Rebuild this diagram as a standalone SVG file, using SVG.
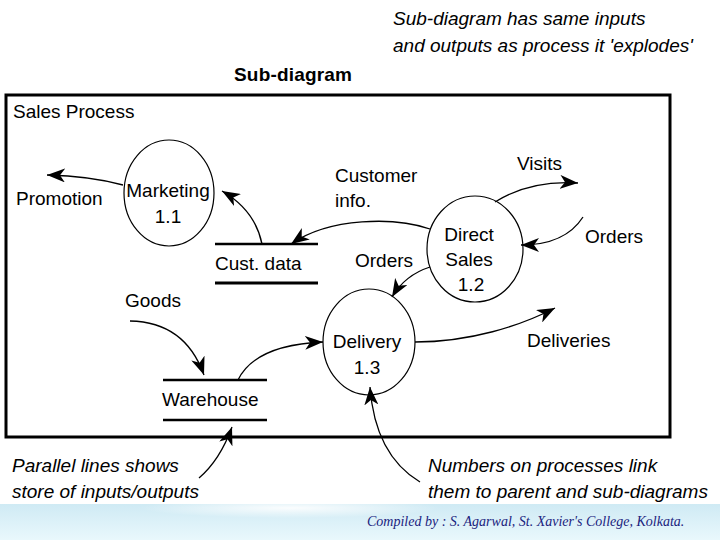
<svg xmlns="http://www.w3.org/2000/svg" width="720" height="540" viewBox="0 0 720 540">
<defs>
<marker id="ah" markerUnits="userSpaceOnUse" markerWidth="20" markerHeight="14" refX="18" refY="7" orient="auto">
<path d="M0,0 L18,7 L0,14 L5,7 Z" fill="#000"/>
</marker>
<linearGradient id="band" x1="0" y1="0" x2="0" y2="1">
<stop offset="0" stop-color="#cfeaf4"/>
<stop offset="1" stop-color="#e9f8fc"/>
</linearGradient>
<radialGradient id="glow" cx="0.5" cy="0.5" r="0.5">
<stop offset="0" stop-color="#ffffff" stop-opacity="0.9"/>
<stop offset="1" stop-color="#ffffff" stop-opacity="0"/>
</radialGradient>
</defs>
<style>
text{font-family:"Liberation Sans",Arial,sans-serif;font-size:19px;fill:#000}
.it{font-style:italic}
.proc{fill:none;stroke:#000;stroke-width:1.2}
.store{stroke:#000;stroke-width:2.5}
.flow{fill:none;stroke:#000;stroke-width:1.3;marker-end:url(#ah)}
.mid{text-anchor:middle}
</style>
<rect width="720" height="540" fill="#fff"/>
<rect x="0" y="504" width="720" height="36" fill="url(#band)"/>
<ellipse cx="290" cy="508" rx="150" ry="10" fill="url(#glow)"/>

<text class="it" x="393" y="25">Sub-diagram has same inputs</text>
<text class="it" x="393" y="52">and outputs as process it 'explodes'</text>
<text x="234" y="81" style="font-weight:bold;font-size:19px" textLength="118">Sub-diagram</text>

<rect x="6" y="95" width="664" height="342" fill="none" stroke="#000" stroke-width="3"/>
<text x="13" y="118">Sales Process</text>

<g id="marketing">
<ellipse class="proc" cx="169" cy="193" rx="45" ry="53"/>
<text class="mid" x="168" y="197">Marketing</text>
<text class="mid" x="168" y="223">1.1</text>
</g>
<g id="direct-sales">
<ellipse class="proc" cx="475" cy="249" rx="48" ry="53"/>
<text class="mid" x="469" y="241">Direct</text>
<text class="mid" x="469" y="266">Sales</text>
<text class="mid" x="471" y="291">1.2</text>
</g>
<g id="delivery">
<ellipse class="proc" cx="369" cy="342" rx="46" ry="53"/>
<text class="mid" x="367" y="348">Delivery</text>
<text class="mid" x="367" y="374">1.3</text>
</g>
<g id="cust-data">
<line class="store" x1="215" y1="244" x2="318" y2="244"/>
<line class="store" x1="215" y1="283" x2="318" y2="283" style="stroke-width:3"/>
<text x="215" y="270">Cust. data</text>
</g>
<g id="warehouse">
<line class="store" x1="163" y1="380" x2="267" y2="380"/>
<line class="store" x1="163" y1="420" x2="267" y2="420"/>
<text x="162" y="406">Warehouse</text>
</g>
<g id="promotion"><text x="16" y="205">Promotion</text></g>
<g id="customer-info"><text x="335" y="182">Customer</text><text x="335" y="207">info.</text></g>
<g id="visits"><text x="517" y="170">Visits</text></g>
<g id="orders-ext"><text x="585" y="243">Orders</text></g>
<g id="orders-int"><text x="355" y="267">Orders</text></g>
<g id="goods"><text x="125" y="307">Goods</text></g>
<g id="deliveries"><text x="527" y="347">Deliveries</text></g>

<g id="connectors">
<path class="flow" d="M123,185 Q90,176 47,175"/>
<path class="flow" d="M262,244 Q255,210 222,191"/>
<path class="flow" d="M430,229 C395,217 330,217 291,244"/>
<path class="flow" d="M495,202 Q530,180 578,183"/>
<path class="flow" d="M583,217 Q565,245 521,245"/>
<path class="flow" d="M430,267 Q405,275 392,297"/>
<path class="flow" d="M130,321 Q185,322 204,375"/>
<path class="flow" d="M238,380 Q255,345 323,342"/>
<path class="flow" d="M415,342 C470,342 520,326 555,308"/>
<path class="flow" d="M420,482 Q375,455 370,387"/>
<path class="flow" d="M199,478 Q220,460 232,427"/>
</g>

<text class="it" x="12" y="472">Parallel lines shows</text>
<text class="it" x="12" y="498">store of inputs/outputs</text>
<text class="it" x="428" y="472">Numbers on processes link</text>
<text class="it" x="428" y="498">them to parent and sub-diagrams</text>

<text class="it" x="367" y="526" style="font-family:'Liberation Serif','Times New Roman',serif;font-size:14px;fill:#1a237e">Compiled by : S. Agarwal, St. Xavier's College, Kolkata.</text>
</svg>
